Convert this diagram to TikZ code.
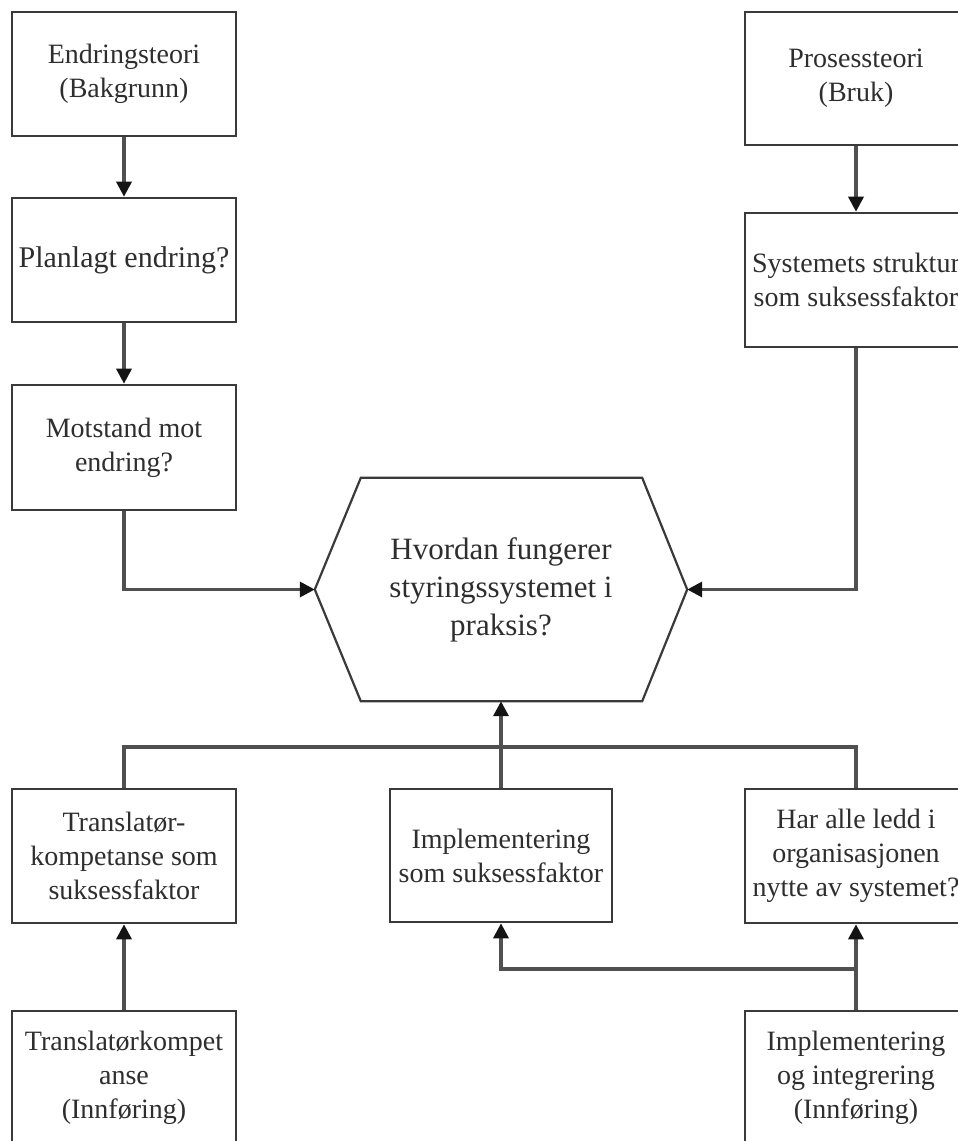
\documentclass[tikz,border=0pt]{standalone}
\usepackage{fontspec}
\setmainfont{Liberation Serif}
\usetikzlibrary{arrows.meta,calc}
\definecolor{boxc}{HTML}{3A3A3A}
\definecolor{linec}{HTML}{505050}
\definecolor{txtc}{HTML}{2E2E2E}
\definecolor{tipc}{HTML}{141414}
\begin{document}
\begin{tikzpicture}[x=1pt,y=-1pt,
  box/.style={draw=boxc, line width=2.6pt, fill=white, align=center, inner sep=0pt,
    font=\fontsize{28}{34}\selectfont, text=txtc},
  bigtext/.style={font=\fontsize{30}{35}\selectfont},
  hexlabel/.style={align=center, inner sep=0pt, font=\fontsize{31}{38}\selectfont, text=txtc},
  wire/.style={draw=linec, line width=3.4pt},
  conn/.style={wire, -{Triangle[width=15pt,length=15pt,color=tipc,fill=tipc]}},
  hexline/.style={draw=boxc, line width=2.2pt}]
\useasboundingbox (0,0) rectangle (958,1141);
\clip (0,0) rectangle (958,1141);
\fill[white] (0,0) rectangle (958,1141);

% left column
\node[box, minimum width=224pt, minimum height=124pt] (a1) at (124,74) {Endringsteori\\(Bakgrunn)};
\node[box, bigtext, minimum width=224pt, minimum height=124pt] (a2) at (124,260) {Planlagt endring?};
\node[box, minimum width=224pt, minimum height=125pt] (a3) at (124,447.5) {Motstand mot\\endring?};

% right column
\node[box, minimum width=222pt, minimum height=133pt] (b1) at (856,78.5) {Prosessteori\\(Bruk)};
\node[box, minimum width=222pt, minimum height=134pt] (b2) at (856,280) {Systemets struktur\\som suksessfaktor};

% hexagon
\node[hexlabel, minimum width=372pt, minimum height=223pt] (hex) at (501,589.5) {Hvordan fungerer\\styringssystemet i\\praksis?};
\draw[hexline] (hex.west) -- ($(hex.north west)+(46,0)$) -- ($(hex.north east)+(-45,0)$) -- (hex.east)
  -- ($(hex.south east)+(-45,0)$) -- ($(hex.south west)+(46,0)$) -- cycle;

% lower row
\node[box, minimum width=224pt, minimum height=134pt] (c1) at (124,856) {Translatør-\\kompetanse som\\suksessfaktor};
\node[box, minimum width=222pt, minimum height=133pt] (c2) at (501,855.5) {Implementering\\som suksessfaktor};
\node[box, minimum width=222pt, minimum height=134pt] (c3) at (856,856) {Har alle ledd i\\organisasjonen\\nytte av systemet?};

% bottom row
\node[box, minimum width=224pt, minimum height=134pt] (d1) at (124,1078) {Translatørkompet\\anse\\(Innføring)};
\node[box, minimum width=222pt, minimum height=134pt] (d2) at (856,1078) {Implementering\\og integrering\\(Innføring)};

\coordinate (j) at (501,747);
\coordinate (k) at (856,969);

% connectors
\draw[conn] (a1) -- (a2);
\draw[conn] (a2) -- (a3);
\draw[conn] (a3.south) |- (hex.west);
\draw[conn] (b1) -- (b2);
\draw[conn] (b2.south) |- (hex.east);
\draw[wire] (c1.north) |- (j);
\draw[wire] (c3.north) |- (j);
\draw[conn] (c2.north) -- (hex.south);
\draw[conn] (d1) -- (c1);
\draw[conn] (d2) -- (c3);
\draw[conn] (k) -| (c2.south);
\end{tikzpicture}
\end{document}
